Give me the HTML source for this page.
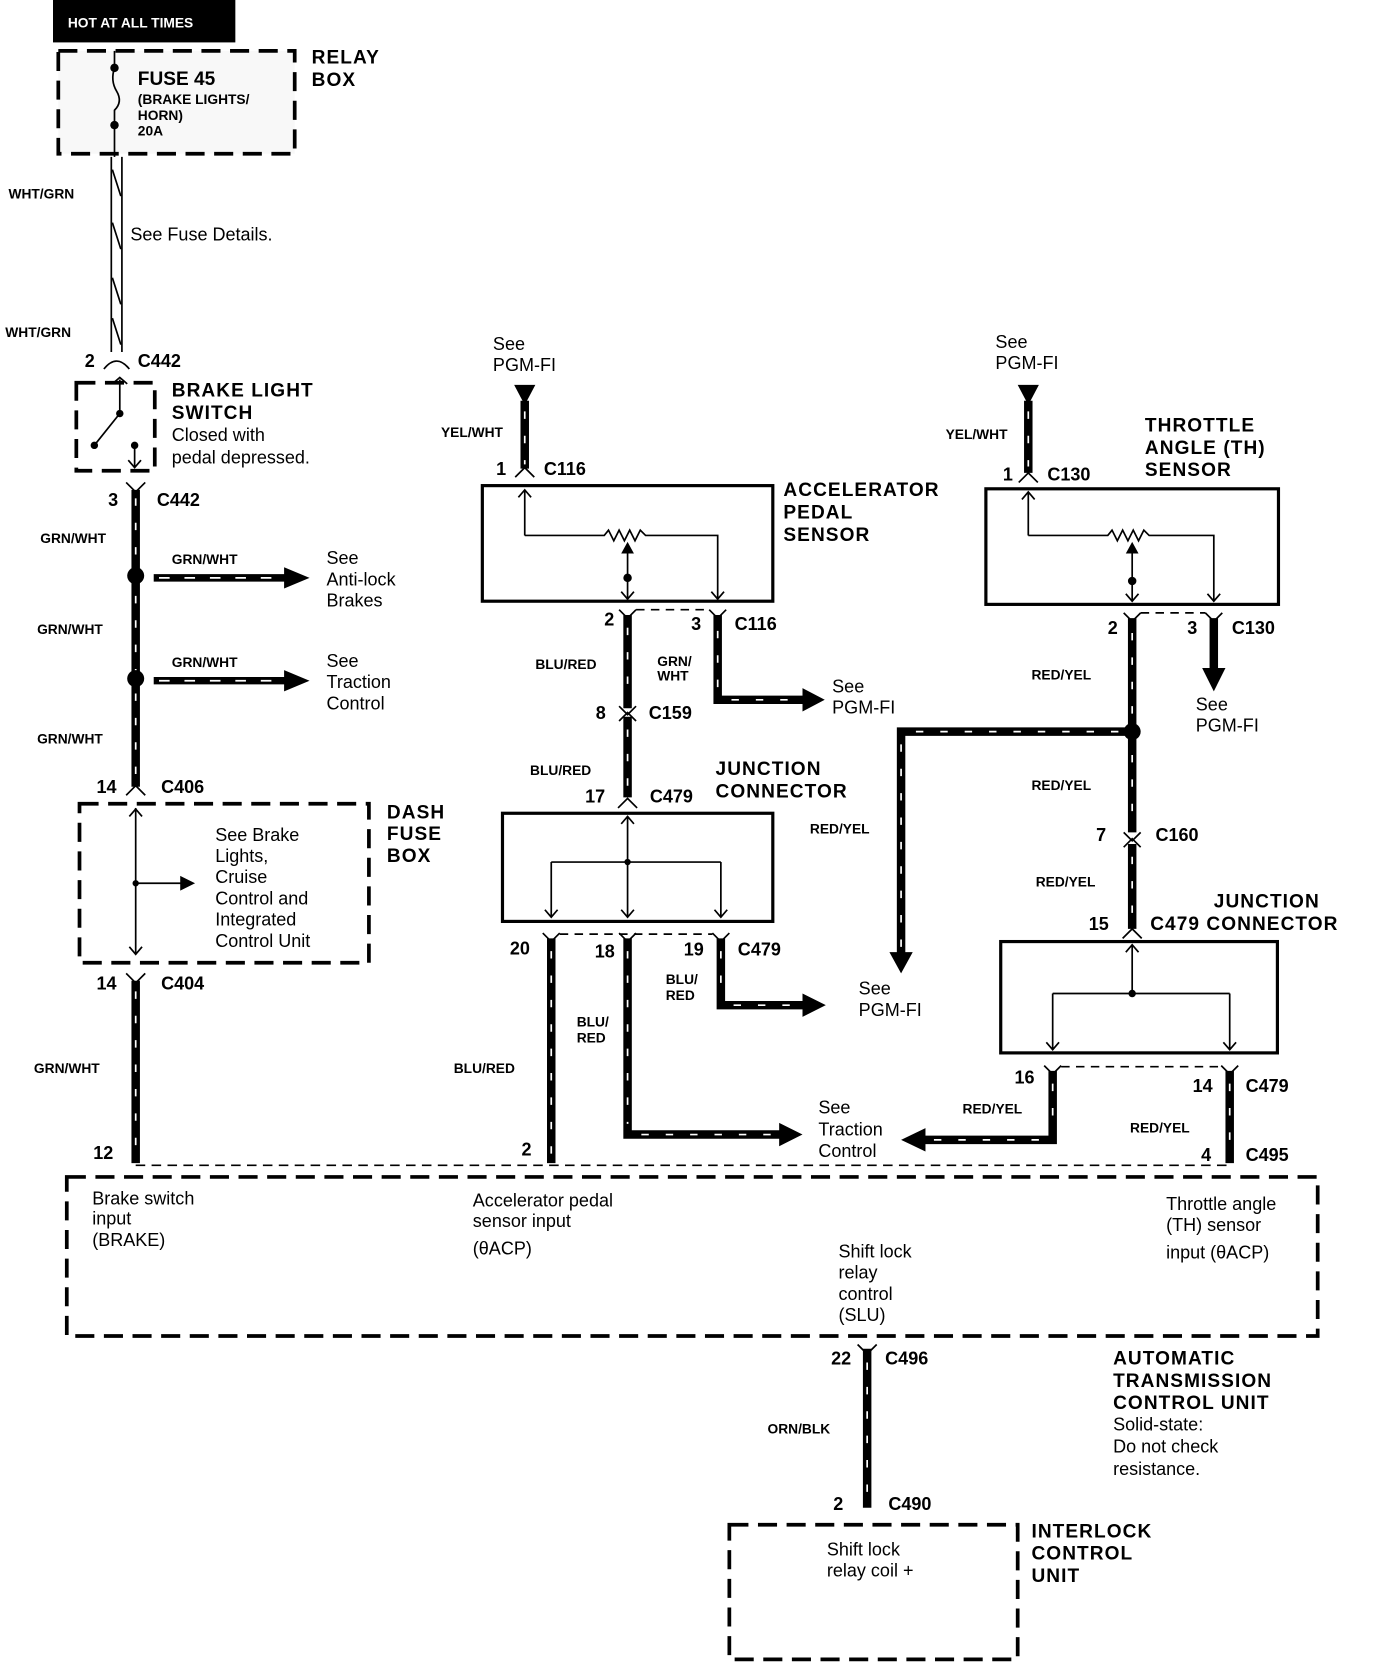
<!DOCTYPE html>
<html><head><meta charset="utf-8"><style>
html,body{margin:0;padding:0;background:#fff;}
svg{display:block;}
text{font-family:"Liberation Sans",Arial,sans-serif;fill:#000;}
.b{font-weight:bold;}
.w{stroke:#000;stroke-width:8;fill:none;}
.wd{stroke:#fff;stroke-width:1.6;fill:none;stroke-dasharray:7 16;}
.h{stroke:#000;stroke-width:7;fill:none;}
.hd{stroke:#fff;stroke-width:1.6;fill:none;stroke-dasharray:10 14;}
.dash{stroke:#000;stroke-width:3.5;fill:none;stroke-dasharray:18 9;}
.thin{stroke:#000;stroke-width:1.6;fill:none;}
.box{stroke:#000;stroke-width:3;fill:none;}
.t{font-size:17px;}
.s{font-size:13px;font-weight:bold;}
.L{font-size:18px;font-weight:bold;letter-spacing:1px;}
</style></head><body>
<svg width="1376" height="1670" viewBox="0 0 1298 1575" preserveAspectRatio="none" xmlns="http://www.w3.org/2000/svg">
<!-- header -->
<rect x="50" y="0" width="172" height="40" fill="#000"/>
<text x="64" y="26" style="font-size:13px;font-weight:bold;fill:#fff">HOT AT ALL TIMES</text>
<!-- relay box -->
<rect x="55" y="48" width="223" height="97" fill="#f2f2f2" opacity="0.5"/>
<rect x="55" y="48" width="223" height="97" class="dash"/>
<text x="294" y="60" class="L">RELAY</text><text x="294" y="81" class="L">BOX</text>
<line x1="108" y1="48" x2="108" y2="64" class="thin" stroke-width="2.5"/>
<circle cx="108" cy="64" r="4"/>
<path d="M108 64 Q104 76 110 86 Q116 96 108 104 L108 118" class="thin" stroke-width="2.5"/>
<circle cx="108" cy="118" r="4"/>
<line x1="108" y1="118" x2="108" y2="148" class="thin" stroke-width="2.5"/>
<text x="130" y="80" class="b" style="font-size:18px">FUSE 45</text>
<text x="130" y="98" class="s">(BRAKE LIGHTS/</text>
<text x="130" y="113" class="s">HORN)</text>
<text x="130" y="128" class="s">20A</text>
<!-- WHT/GRN wire -->
<line x1="105" y1="148" x2="105" y2="332" class="thin" stroke-width="3"/>
<line x1="115" y1="148" x2="115" y2="332" class="thin" stroke-width="3"/>
<path d="M106 160 L114 185 M106 210 L114 235 M106 262 L114 287 M106 300 L114 325" class="thin" stroke-width="3"/>
<text x="8" y="187" class="s">WHT/GRN</text>
<text x="5" y="318" class="s">WHT/GRN</text>
<text x="123" y="227" class="t">See Fuse Details.</text>
<text x="80" y="346" class="b" style="font-size:17px">2</text>
<path d="M98 348 Q110 333 122 348" class="thin" stroke-width="4"/>
<text x="130" y="346" class="b" style="font-size:17px">C442</text>
<!-- brake light switch -->
<rect x="72" y="361" width="74" height="83" class="dash"/>
<line x1="113" y1="358" x2="113" y2="388" class="thin" stroke-width="2"/>
<path d="M106 362 L113 356 L120 362" class="thin" stroke-width="2"/>
<circle cx="113" cy="390" r="3.5"/><line x1="113" y1="390" x2="89" y2="420" class="thin" stroke-width="3"/><circle cx="89" cy="420" r="3.5"/>
<circle cx="127" cy="420" r="3.5"/><line x1="127" y1="420" x2="127" y2="440" class="thin" stroke-width="2"/>
<path d="M121 434 L127 441 L133 434" class="thin" stroke-width="2"/>
<text x="162" y="374" class="L">BRAKE LIGHT</text>
<text x="162" y="395" class="L">SWITCH</text>
<text x="162" y="416" class="t">Closed with</text>
<text x="162" y="437" class="t">pedal depressed.</text>
<!-- C442 3 -->
<text x="102" y="477" class="b" style="font-size:17px">3</text>
<path d="M119 455 L128 464 L137 455" class="thin" stroke-width="4"/>
<text x="148" y="477" class="b" style="font-size:17px">C442</text>
<line x1="128" y1="462" x2="128" y2="742" class="w"/><line x1="128" y1="470" x2="128" y2="742" class="wd"/>
<circle cx="128" cy="543" r="8"/><circle cx="128" cy="640" r="8"/>
<line x1="145" y1="545" x2="272" y2="545" class="h"/><line x1="150" y1="545" x2="268" y2="545" class="hd"/>
<path d="M268 535 L292 545 L268 555 Z"/>
<line x1="145" y1="642" x2="272" y2="642" class="h"/><line x1="150" y1="642" x2="268" y2="642" class="hd"/>
<path d="M268 632 L292 642 L268 652 Z"/>
<text x="38" y="512" class="s">GRN/WHT</text>
<text x="35" y="598" class="s">GRN/WHT</text>
<text x="35" y="701" class="s">GRN/WHT</text>
<text x="162" y="532" class="s">GRN/WHT</text>
<text x="162" y="629" class="s">GRN/WHT</text>
<text x="308" y="532" class="t">See</text><text x="308" y="552" class="t">Anti-lock</text><text x="308" y="572" class="t">Brakes</text>
<text x="308" y="629" class="t">See</text><text x="308" y="649" class="t">Traction</text><text x="308" y="669" class="t">Control</text>
<!-- C406 / dash fuse box -->
<text x="91" y="748" class="b" style="font-size:17px">14</text>
<path d="M119 750 L128 741 L137 750" class="thin" stroke-width="4"/>
<text x="152" y="748" class="b" style="font-size:17px">C406</text>
<rect x="75" y="758" width="273" height="150" class="dash"/>
<text x="365" y="772" class="L">DASH</text><text x="365" y="792" class="L">FUSE</text><text x="365" y="813" class="L">BOX</text>
<line x1="128" y1="762" x2="128" y2="900" class="thin" stroke-width="2"/>
<path d="M122 770 L128 763 L134 770 M122 893 L128 900 L134 893" class="thin" stroke-width="2"/>
<line x1="128" y1="833" x2="172" y2="833" class="thin" stroke-width="2"/><path d="M170 826 L184 833 L170 840 Z"/>
<circle cx="128" cy="833" r="3"/>
<text x="203" y="793" class="t">See Brake</text><text x="203" y="813" class="t">Lights,</text><text x="203" y="833" class="t">Cruise</text><text x="203" y="853" class="t">Control and</text><text x="203" y="873" class="t">Integrated</text><text x="203" y="893" class="t">Control Unit</text>
<text x="91" y="933" class="b" style="font-size:17px">14</text>
<path d="M119 918 L128 927 L137 918" class="thin" stroke-width="4"/>
<text x="152" y="933" class="b" style="font-size:17px">C404</text>
<line x1="128" y1="925" x2="128" y2="1097" class="w"/><line x1="128" y1="935" x2="128" y2="1090" class="wd"/>
<text x="32" y="1012" class="s">GRN/WHT</text>
<text x="88" y="1093" class="b" style="font-size:17px">12</text>
<!-- thin dashed connector line -->
<line x1="128" y1="1099" x2="1160" y2="1099" class="thin" stroke-dasharray="9 6"/>
<!-- ECU -->
<rect x="63" y="1110" width="1180" height="150" class="dash"/>
<text x="87" y="1136" class="t">Brake switch</text><text x="87" y="1155" class="t">input</text><text x="87" y="1175" class="t">(BRAKE)</text>
<text x="446" y="1138" class="t">Accelerator pedal</text><text x="446" y="1157" class="t">sensor input</text><text x="446" y="1183" class="t">(θACP)</text>
<text x="791" y="1186" class="t">Shift lock</text><text x="791" y="1206" class="t">relay</text><text x="791" y="1226" class="t">control</text><text x="791" y="1246" class="t">(SLU)</text>
<text x="1100" y="1141" class="t">Throttle angle</text><text x="1100" y="1161" class="t">(TH) sensor</text><text x="1100" y="1187" class="t">input (θACP)</text>
<text x="784" y="1287" class="b" style="font-size:17px">22</text>
<path d="M809 1268 L818 1277 L827 1268" class="thin" stroke-width="4"/>
<text x="835" y="1287" class="b" style="font-size:17px">C496</text>
<line x1="818" y1="1272" x2="818" y2="1422" class="w"/><line x1="818" y1="1285" x2="818" y2="1410" class="wd"/>
<text x="724" y="1352" class="s">ORN/BLK</text>
<text x="786" y="1424" class="b" style="font-size:17px">2</text>
<text x="838" y="1424" class="b" style="font-size:17px">C490</text>
<text x="1050" y="1287" class="L">AUTOMATIC</text><text x="1050" y="1308" class="L">TRANSMISSION</text><text x="1050" y="1329" class="L">CONTROL UNIT</text>
<text x="1050" y="1349" class="t">Solid-state:</text><text x="1050" y="1370" class="t">Do not check</text><text x="1050" y="1391" class="t">resistance.</text>
<rect x="688" y="1438" width="272" height="127" class="dash"/>
<text x="780" y="1467" class="t">Shift lock</text><text x="780" y="1487" class="t">relay coil +</text>
<text x="973" y="1450" class="L">INTERLOCK</text><text x="973" y="1471" class="L">CONTROL</text><text x="973" y="1492" class="L">UNIT</text>

<!-- ACCELERATOR PEDAL SENSOR -->
<text x="465" y="330" class="t">See</text><text x="465" y="350" class="t">PGM-FI</text>
<path d="M485 363 L505 363 L495 382 Z"/>
<line x1="495" y1="378" x2="495" y2="442" class="w"/><line x1="495" y1="388" x2="495" y2="438" class="wd"/>
<path d="M486 450 L495 441 L504 450" class="thin" stroke-width="4"/>
<text x="416" y="412" class="s">YEL/WHT</text>
<text x="468" y="448" class="b" style="font-size:17px">1</text><text x="513" y="448" class="b" style="font-size:17px">C116</text>
<rect x="455" y="458" width="274" height="109" class="box"/>
<text x="739" y="468" class="L">ACCELERATOR</text><text x="739" y="489" class="L">PEDAL</text><text x="739" y="510" class="L">SENSOR</text>
<path d="M495 505 L495 462 M489 469 L495 462 L501 469" class="thin"/>
<path d="M495 505 L570 505 L574 500 L579 510 L584 500 L589 510 L594 500 L599 510 L604 500 L609 505 L677 505 L677 565 M671 558 L677 565 L683 558" class="thin"/>
<path d="M586 522 L592 511 L598 522 Z"/><line x1="592" y1="520" x2="592" y2="565" class="thin"/><circle cx="592" cy="545" r="4"/>
<path d="M586 558 L592 565 L598 558" class="thin"/>
<path d="M584 575 L592 583 L600 575 M669 575 L677 583 L685 575" class="thin" stroke-width="4"/>
<line x1="600" y1="575" x2="669" y2="575" class="thin" stroke-dasharray="8 6"/>
<text x="570" y="590" class="b" style="font-size:17px">2</text><text x="652" y="594" class="b" style="font-size:17px">3</text><text x="693" y="594" class="b" style="font-size:17px">C116</text>
<line x1="592" y1="580" x2="592" y2="668" class="w"/><line x1="592" y1="592" x2="592" y2="660" class="wd"/>
<path d="M584 666 L592 674 L600 666 M584 680 L592 672 L600 680" class="thin" stroke-width="4"/>
<text x="505" y="631" class="s">BLU/RED</text>
<path d="M677 580 L677 660 L760 660" class="w"/><path d="M677 595 L677 650 M690 660 L755 660" class="wd"/>
<path d="M757 649 L778 660 L757 671 Z"/>
<text x="620" y="628" class="s">GRN/</text><text x="620" y="642" class="s">WHT</text>
<text x="785" y="653" class="t">See</text><text x="785" y="673" class="t">PGM-FI</text>
<text x="562" y="678" class="b" style="font-size:17px">8</text><text x="612" y="678" class="b" style="font-size:17px">C159</text>
<line x1="592" y1="676" x2="592" y2="752" class="w"/><line x1="592" y1="688" x2="592" y2="745" class="wd"/>
<path d="M583 762 L592 753 L601 762" class="thin" stroke-width="4"/>
<text x="500" y="731" class="s">BLU/RED</text>
<text x="552" y="757" class="b" style="font-size:17px">17</text><text x="613" y="757" class="b" style="font-size:17px">C479</text>
<text x="675" y="731" class="L">JUNCTION</text><text x="675" y="752" class="L">CONNECTOR</text>
<rect x="474" y="767" width="255" height="102" class="box"/>
<path d="M592 770 L592 865 M586 777 L592 770 L598 777 M520 813 L680 813 M520 813 L520 865 M680 813 L680 865 M514 858 L520 865 L526 858 M586 858 L592 865 L598 858 M674 858 L680 865 L686 858" class="thin"/>
<circle cx="592" cy="813" r="3"/>
<path d="M512 880 L520 888 L528 880 M584 880 L592 888 L600 880 M672 880 L680 888 L688 880" class="thin" stroke-width="4"/>
<line x1="528" y1="881" x2="672" y2="881" class="thin" stroke-dasharray="8 6"/>
<text x="481" y="900" class="b" style="font-size:17px">20</text><text x="561" y="903" class="b" style="font-size:17px">18</text><text x="645" y="901" class="b" style="font-size:17px">19</text><text x="696" y="901" class="b" style="font-size:17px">C479</text>
<line x1="520" y1="885" x2="520" y2="1097" class="w"/><line x1="520" y1="897" x2="520" y2="1090" class="wd"/>
<text x="428" y="1012" class="s">BLU/RED</text><text x="492" y="1090" class="b" style="font-size:17px">2</text>
<path d="M592 885 L592 1070 L738 1070" class="w"/><path d="M592 897 L592 1060 M605 1070 L735 1070" class="wd"/>
<path d="M735 1059 L757 1070 L735 1081 Z"/>
<text x="544" y="968" class="s">BLU/</text><text x="544" y="983" class="s">RED</text>
<text x="772" y="1050" class="t">See</text><text x="772" y="1071" class="t">Traction</text><text x="772" y="1091" class="t">Control</text>
<path d="M680 885 L680 948 L760 948" class="w"/><path d="M680 897 L680 940 M692 948 L755 948" class="wd"/>
<path d="M757 937 L779 948 L757 959 Z"/>
<text x="628" y="928" class="s">BLU/</text><text x="628" y="943" class="s">RED</text>
<text x="810" y="938" class="t">See</text><text x="810" y="958" class="t">PGM-FI</text>

<!-- THROTTLE SENSOR -->
<text x="939" y="328" class="t">See</text><text x="939" y="348" class="t">PGM-FI</text>
<path d="M960 363 L980 363 L970 382 Z"/>
<line x1="970" y1="378" x2="970" y2="446" class="w"/><line x1="970" y1="388" x2="970" y2="440" class="wd"/>
<path d="M961 455 L970 446 L979 455" class="thin" stroke-width="4"/>
<text x="892" y="414" class="s">YEL/WHT</text>
<text x="946" y="453" class="b" style="font-size:17px">1</text><text x="988" y="453" class="b" style="font-size:17px">C130</text>
<text x="1080" y="407" class="L">THROTTLE</text><text x="1080" y="428" class="L">ANGLE (TH)</text><text x="1080" y="449" class="L">SENSOR</text>
<rect x="930" y="461" width="276" height="109" class="box"/>
<path d="M970 505 L970 464 M964 471 L970 464 L976 471" class="thin"/>
<path d="M970 505 L1045 505 L1049 500 L1054 510 L1059 500 L1064 510 L1069 500 L1074 510 L1079 500 L1084 505 L1145 505 L1145 567 M1139 560 L1145 567 L1151 560" class="thin"/>
<path d="M1062 522 L1068 511 L1074 522 Z"/><line x1="1068" y1="520" x2="1068" y2="567" class="thin"/><circle cx="1068" cy="548" r="4"/>
<path d="M1062 560 L1068 567 L1074 560" class="thin"/>
<path d="M1060 578 L1068 586 L1076 578 M1137 578 L1145 586 L1153 578" class="thin" stroke-width="4"/>
<line x1="1076" y1="578" x2="1137" y2="578" class="thin" stroke-dasharray="8 6"/>
<text x="1045" y="598" class="b" style="font-size:17px">2</text><text x="1120" y="598" class="b" style="font-size:17px">3</text><text x="1162" y="598" class="b" style="font-size:17px">C130</text>
<line x1="1145" y1="583" x2="1145" y2="632" class="w"/><path d="M1134 630 L1156 630 L1145 652 Z"/>
<text x="1128" y="670" class="t">See</text><text x="1128" y="690" class="t">PGM-FI</text>
<line x1="1068" y1="583" x2="1068" y2="785" class="w"/><line x1="1068" y1="597" x2="1068" y2="778" class="wd"/>
<circle cx="1068" cy="690" r="8"/>
<path d="M1068 690 L850 690 L850 900" class="w"/><path d="M1055 690 L860 690 M850 702 L850 895" class="wd"/>
<path d="M839 898 L861 898 L850 918 Z"/>
<text x="973" y="641" class="s">RED/YEL</text>
<text x="764" y="786" class="s">RED/YEL</text>
<text x="973" y="745" class="s">RED/YEL</text>
<path d="M1060 785 L1068 793 L1076 785 M1060 799 L1068 791 L1076 799" class="thin" stroke-width="4"/>
<text x="1034" y="793" class="b" style="font-size:17px">7</text><text x="1090" y="793" class="b" style="font-size:17px">C160</text>
<line x1="1068" y1="796" x2="1068" y2="876" class="w"/><line x1="1068" y1="808" x2="1068" y2="870" class="wd"/>
<path d="M1059 885 L1068 876 L1077 885" class="thin" stroke-width="4"/>
<text x="977" y="836" class="s">RED/YEL</text>
<text x="1145" y="856" class="L">JUNCTION</text>
<text x="1027" y="877" class="b" style="font-size:17px">15</text><text x="1085" y="877" class="L">C479 CONNECTOR</text>
<rect x="944" y="888" width="261" height="105" class="box"/>
<path d="M1068 891 L1068 937 M1062 898 L1068 891 L1074 898 M993 937 L1160 937 M993 937 L993 990 M1160 937 L1160 990 M987 983 L993 990 L999 983 M1154 983 L1160 990 L1166 983" class="thin"/>
<circle cx="1068" cy="937" r="3.5"/>
<path d="M985 1005 L993 1013 L1001 1005 M1152 1005 L1160 1013 L1168 1005" class="thin" stroke-width="4"/>
<line x1="1001" y1="1006" x2="1152" y2="1006" class="thin" stroke-dasharray="8 6"/>
<text x="957" y="1022" class="b" style="font-size:17px">16</text><text x="1125" y="1030" class="b" style="font-size:17px">14</text><text x="1175" y="1030" class="b" style="font-size:17px">C479</text>
<path d="M993 1010 L993 1075 L870 1075" class="w"/><path d="M993 1022 L993 1068 M980 1075 L875 1075" class="wd"/>
<path d="M873 1064 L850 1075 L873 1086 Z"/>
<text x="908" y="1050" class="s">RED/YEL</text>
<line x1="1160" y1="1010" x2="1160" y2="1097" class="w"/><line x1="1160" y1="1022" x2="1160" y2="1090" class="wd"/>
<text x="1066" y="1068" class="s">RED/YEL</text>
<text x="1133" y="1095" class="b" style="font-size:17px">4</text><text x="1175" y="1095" class="b" style="font-size:17px">C495</text>
</svg>
</body></html>
